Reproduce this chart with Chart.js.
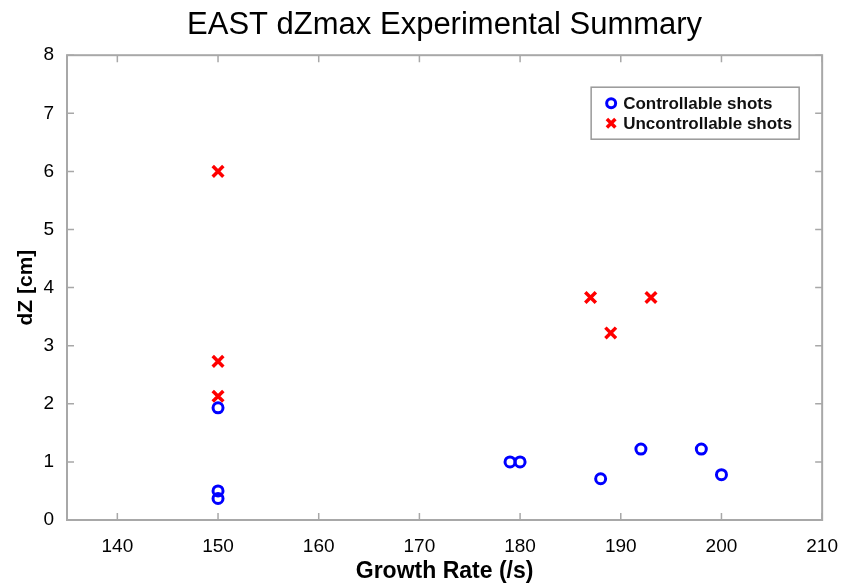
<!DOCTYPE html>
<html>
<head>
<meta charset="utf-8">
<script src="https://cdn.jsdelivr.net/npm/chart.js@4"></script>
<style>
  html, body { margin: 0; padding: 0; background: #fff; }
  #wrap { width: 845px; height: 585px; }
</style>
</head>
<body>
<div id="wrap"><canvas id="chartCanvas" width="845" height="585"></canvas></div>
<script>
// values
var controllableX = [150, 150, 150, 179, 180, 188, 192, 198, 200];
var controllableY = [1.93, 0.5, 0.37, 1.0, 1.0, 0.71, 1.22, 1.22, 0.78];
var uncontrollableX = [150, 150, 150, 187, 189, 193];
var uncontrollableY = [6.0, 2.73, 2.13, 3.83, 3.22, 3.83];
var xTicks = [140, 150, 160, 170, 180, 190, 200, 210];
var yTicks = [0, 1, 2, 3, 4, 5, 6, 7, 8];
var seriesNames = ['Controllable shots', 'Uncontrollable shots'];

var FONT = '"Liberation Sans", Arial, sans-serif';

var toPoints = function (xs, ys) {
  return xs.map(function (x, i) { return { x: x, y: ys[i] }; });
};

// matlab style box with inward ticks
var boxPlugin = {
  id: 'box',
  afterDraw: function (chart) {
    var ctx = chart.ctx, a = chart.chartArea;
    var sx = chart.scales.x, sy = chart.scales.y;
    ctx.save();
    ctx.strokeStyle = '#a8a8a8';
    ctx.lineWidth = 2;
    ctx.strokeRect(a.left, a.top, a.right - a.left, a.bottom - a.top);
    ctx.lineWidth = 1.5;
    ctx.beginPath();
    xTicks.forEach(function (v) {
      var px = sx.getPixelForValue(v);
      ctx.moveTo(px, a.bottom); ctx.lineTo(px, a.bottom - 7);
      ctx.moveTo(px, a.top); ctx.lineTo(px, a.top + 7);
    });
    yTicks.forEach(function (v) {
      var py = sy.getPixelForValue(v);
      ctx.moveTo(a.left, py); ctx.lineTo(a.left + 7, py);
      ctx.moveTo(a.right, py); ctx.lineTo(a.right - 7, py);
    });
    ctx.stroke();
    ctx.restore();
  }
};

var legendPlugin = {
  id: 'boxLegend',
  afterDraw: function (chart) {
    var ctx = chart.ctx, a = chart.chartArea;
    var w = 208, h = 52;
    var x0 = a.right - 23 - w, y0 = a.top + 32;
    ctx.save();
    ctx.fillStyle = '#fff';
    ctx.fillRect(x0, y0, w, h);
    ctx.strokeStyle = '#999';
    ctx.lineWidth = 1.5;
    ctx.strokeRect(x0, y0, w, h);
    chart.data.datasets.forEach(function (ds, i) {
      var cy = y0 + 16 + i * 20;
      ctx.strokeStyle = ds.borderColor;
      ctx.fillStyle = 'rgba(0,0,0,0)';
      ctx.lineWidth = ds.borderWidth;
      Chart.helpers.drawPoint(ctx, { pointStyle: ds.pointStyle, radius: i ? 6 : 4.5, borderWidth: ds.borderWidth }, x0 + 20, cy);
      ctx.fillStyle = '#111';
      ctx.font = 'bold 17px ' + FONT;
      ctx.textBaseline = 'middle';
      ctx.fillText(ds.label, x0 + 32, cy + 1);
    });
    ctx.restore();
  }
};

new Chart(document.getElementById('chartCanvas').getContext('2d'), {
  type: 'scatter',
  data: {
    datasets: [{
      label: seriesNames[0],
      data: toPoints(controllableX, controllableY),
      pointStyle: 'circle',
      pointRadius: 5,
      borderWidth: 3,
      borderColor: '#0000ff',
      backgroundColor: 'rgba(0,0,0,0)'
    }, {
      label: seriesNames[1],
      data: toPoints(uncontrollableX, uncontrollableY),
      pointStyle: 'crossRot',
      pointRadius: 7.5,
      borderWidth: 3.5,
      borderColor: '#ff0000',
      backgroundColor: '#ff0000'
    }]
  },
  options: {
    responsive: false,
    animation: false,
    layout: { padding: { left: 0, right: 20, top: 0, bottom: 0 } },
    plugins: {
      legend: { display: false },
      tooltip: { enabled: false },
      title: {
        display: true,
        fullSize: false,
        text: 'EAST dZmax Experimental Summary',
        color: '#000',
        font: { family: FONT, size: 31, weight: 'normal', lineHeight: 1.2 },
        padding: { top: 7, bottom: 11 }
      }
    },
    scales: {
      x: {
        type: 'linear',
        min: 135,
        max: 210,
        afterBuildTicks: function (scale) {
          scale.ticks = xTicks.map(function (v) { return { value: v }; });
        },
        afterFit: function (scale) { scale.height = 65; },
        grid: { display: false },
        border: { display: false },
        ticks: {
          color: '#000',
          padding: 7,
          maxRotation: 0,
          font: { family: FONT, size: 19 }
        },
        title: {
          display: true,
          text: 'Growth Rate (/s)',
          color: '#000',
          font: { family: FONT, size: 23, weight: 'bold' },
          padding: { top: 0, bottom: 0 }
        }
      },
      y: {
        type: 'linear',
        min: 0,
        max: 8,
        afterBuildTicks: function (scale) {
          scale.ticks = yTicks.map(function (v) { return { value: v }; });
        },
        afterFit: function (scale) { scale.width = 67; },
        grid: { display: false },
        border: { display: false },
        ticks: {
          color: '#000',
          padding: 5,
          font: { family: FONT, size: 19 }
        },
        title: {
          display: true,
          text: 'dZ [cm]',
          color: '#000',
          font: { family: FONT, size: 21, weight: 'bold' },
          padding: { top: 14, bottom: 0 }
        }
      }
    }
  },
  plugins: [boxPlugin, legendPlugin]
});
</script>
</body>
</html>
